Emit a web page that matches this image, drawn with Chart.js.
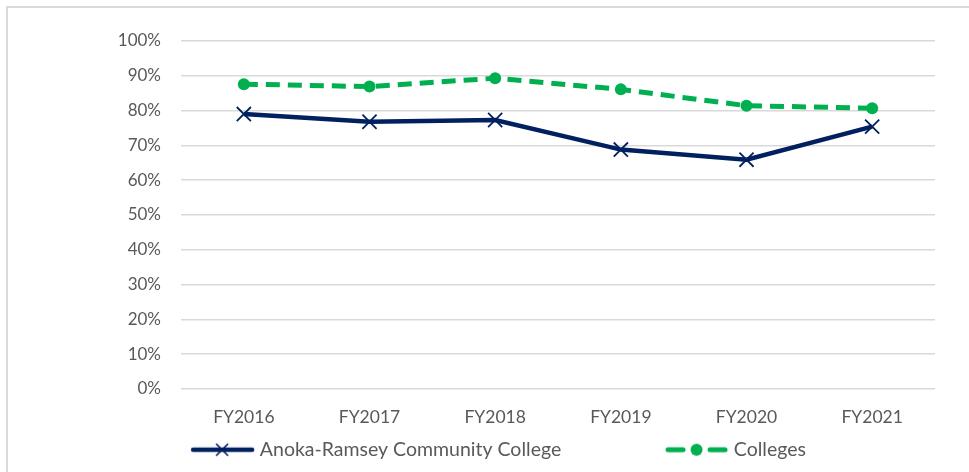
<!DOCTYPE html>
<html>
<head>
<meta charset="utf-8">
<script src="https://cdn.jsdelivr.net/npm/chart.js@4/dist/chart.umd.min.js"></script>
<style>
  html, body { margin: 0; padding: 0; background: #fff; }
  #frame { position: absolute; left: 6px; top: 6px; width: 1000px; height: 500px; border-left: 2px solid #d9d9d9; border-top: 2px solid #d9d9d9; }
  #wrap { position: absolute; left: 0; top: 0; width: 969px; height: 472px; }
</style>
</head>
<body>
<div id="frame"></div>
<div id="wrap"><canvas id="rateChart"></canvas></div>
<script>
const years = ['FY2016', 'FY2017', 'FY2018', 'FY2019', 'FY2020', 'FY2021'];
const anokaRamsey = [79.0, 76.8, 77.3, 68.8, 65.9, 75.4];
const colleges = [87.6, 86.9, 89.3, 86.1, 81.4, 80.7];

const navy = '#002060';
const green = '#00b050';
const textGrey = '#595959';

// little canvas icons for the legend: line with its marker
function legendIcon(color, dashed) {
  const c = document.createElement('canvas');
  c.width = 65; c.height = 18;
  const g = c.getContext('2d');
  g.strokeStyle = color;
  g.fillStyle = color;
  g.lineCap = 'round';
  if (dashed) {
    g.lineWidth = 5;
    g.beginPath();
    g.moveTo(4, 9); g.lineTo(19, 9);
    g.moveTo(46, 9); g.lineTo(61, 9);
    g.stroke();
    g.beginPath();
    g.arc(32.5, 9, 6, 0, Math.PI * 2);
    g.fill();
  } else {
    g.lineWidth = 4.5;
    g.beginPath();
    g.moveTo(3, 9); g.lineTo(62, 9);
    g.stroke();
    g.lineWidth = 1.6;
    g.lineCap = 'butt';
    g.beginPath();
    g.moveTo(26, 3); g.lineTo(38, 15);
    g.moveTo(38, 3); g.lineTo(26, 15);
    g.stroke();
  }
  return c;
}

const icons = [legendIcon(navy, false), legendIcon(green, true)];
// extra room after the first legend entry, as in the original
const legendGap = [' '.repeat(19), ''];

new Chart(document.getElementById('rateChart'), {
  type: 'line',
  data: {
    labels: years,
    datasets: [{
      label: 'Anoka-Ramsey Community College',
      data: anokaRamsey,
      borderColor: navy,
      backgroundColor: navy,
      borderWidth: 4.5,
      pointStyle: 'crossRot',
      pointRadius: 10,
      pointBorderWidth: 1.8,
      pointBorderColor: navy,
      tension: 0,
    }, {
      label: 'Colleges',
      data: colleges,
      borderColor: green,
      backgroundColor: green,
      borderWidth: 5,
      borderDash: [14, 8],
      pointStyle: 'circle',
      pointRadius: 6,
      pointBorderWidth: 0,
      tension: 0,
    }]
  },
  options: {
    responsive: true,
    maintainAspectRatio: false,
    animation: false,
    layout: { padding: { left: 66, right: 34, top: 41, bottom: 2.5 } },
    plugins: {
      tooltip: { enabled: false },
      legend: {
        position: 'bottom',
        labels: {
          color: textGrey,
          font: { family: 'Lato', size: 19.5 },
          usePointStyle: true,
          pointStyleWidth: 55,
          padding: 13,
          generateLabels: function(chart) {
            return chart.data.datasets.map(function(ds, i) {
              return {
                text: ds.label + legendGap[i],
                pointStyle: icons[i],
                fillStyle: ds.borderColor,
                strokeStyle: ds.borderColor,
                fontColor: textGrey,
                lineWidth: 0,
                datasetIndex: i,
                hidden: false,
              };
            });
          }
        }
      }
    },
    scales: {
      x: {
        offset: true,
        grid: { display: false },
        border: { display: false },
        ticks: { color: textGrey, font: { family: 'Lato', size: 17.5 }, padding: 10 },
        afterFit: function(scale) { scale.height = 38; }
      },
      y: {
        min: 0,
        max: 100,
        ticks: {
          stepSize: 10,
          color: textGrey,
          font: { family: 'Lato', size: 17 },
          padding: 20,
          callback: function(v) { return v + '%'; }
        },
        grid: { color: '#d9d9d9', lineWidth: 1.5, drawTicks: false },
        border: { display: false },
        afterFit: function(scale) { scale.width = 115; }
      }
    }
  }
});
</script>
</body>
</html>
